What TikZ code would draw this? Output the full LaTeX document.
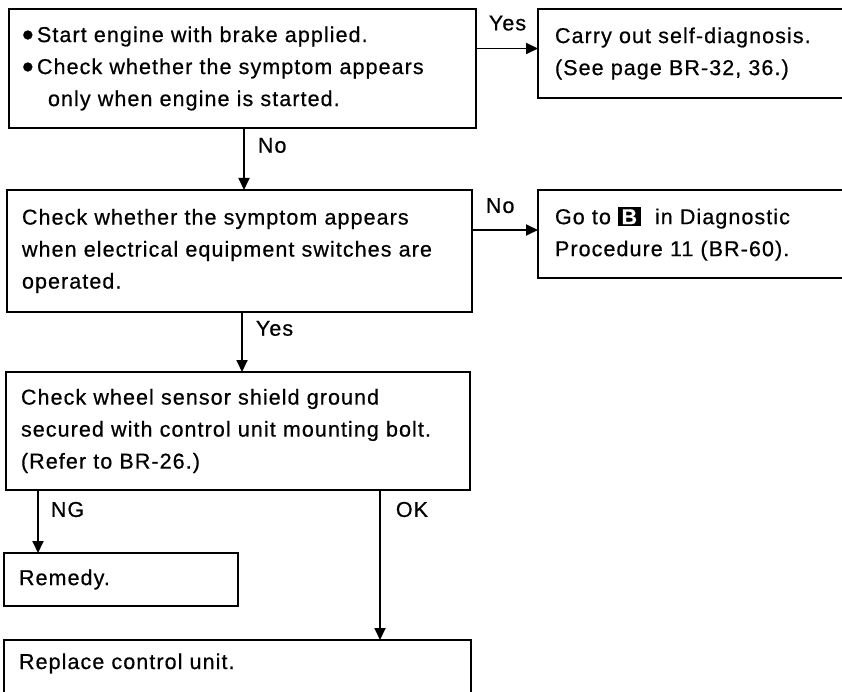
\documentclass[tikz,border=0pt]{standalone}
\usepackage{fontspec}
\setmainfont{Liberation Sans}[LetterSpace=5, FakeBold=0.6]
\usepackage{tikz}
\usetikzlibrary{arrows.meta,positioning}

\newcommand{\chartfont}{\fontsize{21.5}{32}\selectfont}
\newcommand{\blt}{\hspace*{-2pt}\makebox[15pt][l]{\raisebox{-4pt}[0pt][0pt]{\scalebox{1.55}{\textbullet}}}}
\newcommand{\keymark}[1]{{\setlength{\fboxsep}{2pt}\colorbox{black}{\hspace{1.5pt}\textcolor{white}{\bfseries #1}\hspace{1.5pt}}}}

\begin{document}
\begin{tikzpicture}[x=1pt, y=1pt,
  box/.style={draw, line width=2pt, align=left, font=\chartfont,
              inner xsep=15pt, inner ysep=0pt, outer sep=0pt},
  arr/.style={-{Triangle[length=12pt,width=11pt]}, line width=1.8pt},
  lbl/.style={font=\chartfont, inner sep=0pt}
]
\useasboundingbox (0,0) rectangle (842,-692);

\node[box, text width=437pt, minimum height=119pt, anchor=north west] (start) at (9,-9)
  {\blt Start engine with brake applied.\\
   \blt Check whether the symptom appears\\
   \hspace*{24pt}only when engine is started.};
\node[box, inner xsep=17pt, text width=330pt, minimum height=89pt,
      right=62pt of start.north east, anchor=north west] (selfdiag)
  {Carry out self-diagnosis.\\(See page BR-32, 36.)};
\node[box, text width=435pt, minimum height=122pt,
      below=62pt of start.south west, anchor=north west, xshift=-2pt] (elec)
  {Check whether the symptom appears\\when electrical equipment switches are\\operated.};
\node[box, inner xsep=17pt, text width=330pt, minimum height=88pt,
      right=66pt of elec.north east, anchor=north west] (goto)
  {Go to \keymark{B}~~in Diagnostic\\Procedure 11 (BR-60).};
\node[box, text width=434pt, minimum height=118pt,
      below=60pt of elec.south west, anchor=north west, xshift=-1pt] (shield)
  {Check wheel sensor shield ground\\secured with control unit mounting bolt.\\(Refer to BR-26.)};
\node[box, text width=204pt, minimum height=53pt,
      below=63pt of shield.south west, anchor=north west, xshift=-2pt] (remedy)
  {Remedy.};
\node[box, text width=437pt, text height=29pt, text depth=40pt,
      below=150pt of shield.south west, anchor=north west, xshift=-2pt] (replace)
  {Replace control unit.};

\draw[arr] ([yshift=20pt]start.east) -- ([yshift=20pt]start.east -| selfdiag.west)
  node[lbl, pos=0, anchor=south west, xshift=12pt, yshift=17pt] (yes1) {Yes};
\draw[arr] ([xshift=235pt]start.south west) -- ([xshift=235pt]start.south west |- elec.north)
  node[lbl, pos=0, anchor=north west, xshift=13pt, yshift=-9pt] (no1) {No};
\draw[arr] ([yshift=21pt]elec.east) -- ([yshift=21pt]elec.east -| goto.west)
  node[lbl, pos=0, anchor=south west, xshift=13pt, yshift=16pt] (no2) {No};
\draw[arr] ([xshift=235pt]elec.south west) -- ([xshift=235pt]elec.south west |- shield.north)
  node[lbl, pos=0, anchor=north west, xshift=13pt, yshift=-8pt] (yes2) {Yes};
\draw[arr] ([xshift=32pt]shield.south west) -- ([xshift=32pt]shield.south west |- remedy.north)
  node[lbl, pos=0, anchor=north west, xshift=12pt, yshift=-11pt] (ng) {NG};
\draw[arr] ([xshift=374pt]shield.south west) -- ([xshift=374pt]shield.south west |- replace.north)
  node[lbl, pos=0, anchor=north west, xshift=15pt, yshift=-11pt] (ok) {OK};
\end{tikzpicture}
\end{document}
